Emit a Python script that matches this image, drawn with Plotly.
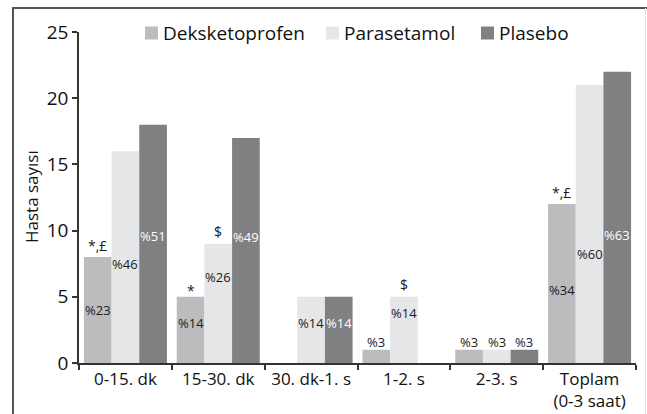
import plotly.graph_objects as go

categories = ["0-15. dk", "15-30. dk", "30. dk-1. s", "1-2. s", "2-3. s", "Toplam<br>(0-3 saat)"]
series_names = ["Deksketoprofen", "Parasetamol", "Plasebo"]
deks_values = [8, 5, 0, 1, 1, 12]
para_values = [16, 9, 5, 5, 1, 21]
plac_values = [18, 17, 5, 0, 1, 22]
series_values = [deks_values, para_values, plac_values]

deks_pct = ["%23", "%14", "", "%3", "%3", "%34"]
para_pct = ["%46", "%26", "%14", "%14", "%3", "%60"]
plac_pct = ["%51", "%49", "%14", "", "%3", "%63"]
pct_labels = [deks_pct, para_pct, plac_pct]
# heights (data units) where the percentage labels sit
deks_pct_y = [4.0, 3.0, 0, 1.6, 1.6, 5.5]
para_pct_y = [7.45, 6.5, 3.0, 3.8, 1.6, 8.2]
plac_pct_y = [9.6, 9.55, 3.0, 0, 1.6, 9.65]
pct_label_y = [deks_pct_y, para_pct_y, plac_pct_y]

deks_marks = ["*,£", "*", "", "", "", "*,£"]
para_marks = ["", "$", "", "$", "", ""]
plac_marks = ["", "", "", "", "", ""]
sig_marks = [deks_marks, para_marks, plac_marks]
deks_marks_y = [8.9, 5.5, 0, 0, 0, 12.9]
para_marks_y = [0, 9.95, 0, 5.9, 0, 0]
plac_marks_y = [0, 0, 0, 0, 0, 0]
sig_marks_y = [deks_marks_y, para_marks_y, plac_marks_y]

colors = ["#bcbcbe", "#e5e6e8", "#808083"]
inner_text_colors = ["#1a1a1a", "#1a1a1a", "#ffffff"]
FONT = "Open Sans"

fig = go.Figure()
for name, vals, col in zip(series_names, series_values, colors):
    fig.add_trace(go.Bar(x=categories, y=vals, name=name, marker=dict(color=col, line=dict(width=0)),
                         showlegend=False, hoverinfo="skip"))

BARGAP = 0.106
bar_w = (1 - BARGAP) / 3
annotations = []
for s in range(3):
    offset = (s - 1) * bar_w
    for i in range(len(categories)):
        lab = pct_labels[s][i]
        if lab:
            ly = pct_label_y[s][i]
            inside = ly < series_values[s][i]
            annotations.append(dict(x=i + offset, y=ly, xref="x", yref="y", text=lab, showarrow=False,
                                    xanchor="center", yanchor="middle",
                                    font=dict(family=FONT, size=13,
                                              color=inner_text_colors[s] if inside else "#1a1a1a")))
        mk = sig_marks[s][i]
        if mk:
            annotations.append(dict(x=i + offset, y=sig_marks_y[s][i], xref="x", yref="y", text=mk,
                                    showarrow=False, xanchor="center", yanchor="middle",
                                    font=dict(family=FONT, size=14, color="#1a1a1a")))

# manual legend
W, H, L, T = 647, 414, 79, 32
PW, PH = 557, 331
def px_x(p):
    return (p - L) / PW
def px_y(p):
    return (T + PH - p) / PH

legend_sq_left = [145, 326, 481]
shapes = []
for name, col, sx in zip(series_names, colors, legend_sq_left):
    shapes.append(dict(type="rect", xref="paper", yref="paper", x0=px_x(sx), x1=px_x(sx + 13),
                       y0=px_y(39.5), y1=px_y(26.5), fillcolor=col, line=dict(width=0)))
    annotations.append(dict(x=px_x(sx + 16), y=px_y(33), xref="paper", yref="paper", text=name,
                            showarrow=False, xanchor="left", yanchor="middle",
                            font=dict(family=FONT, size=19, color="#111111")))

# outer frame
shapes.append(dict(type="line", xref="paper", yref="paper", x0=px_x(13), x1=px_x(13), y0=px_y(8), y1=px_y(420),
                   line=dict(color="#555555", width=2)))
shapes.append(dict(type="line", xref="paper", yref="paper", x0=px_x(12), x1=px_x(650), y0=px_y(8), y1=px_y(8),
                   line=dict(color="#555555", width=2)))
shapes.append(dict(type="line", xref="paper", yref="paper", x0=px_x(645.5), x1=px_x(645.5), y0=px_y(8), y1=px_y(420),
                   line=dict(color="#e4e4e4", width=1)))

# y-axis title
annotations.append(dict(x=px_x(31), y=px_y(197), xref="paper", yref="paper", text="Hasta sayısı",
                        textangle=-90, showarrow=False, xanchor="center", yanchor="middle",
                        font=dict(family=FONT, size=17, color="#111111")))

fig.update_layout(
    width=W, height=H,
    margin=dict(l=L, r=W - L - PW, t=T, b=H - T - PH, pad=0, autoexpand=False),
    barmode="group", bargap=BARGAP, bargroupgap=0,
    plot_bgcolor="white", paper_bgcolor="white",
    font=dict(family=FONT, color="#111111"),
    showlegend=False,
    annotations=annotations, shapes=shapes,
    xaxis=dict(type="category", showline=True, linecolor="#333333", linewidth=1.5, showgrid=False,
               ticks="outside", tickson="boundaries", ticklen=5, tickcolor="#333333", tickwidth=1.5,
               tickfont=dict(family=FONT, size=17, color="#111111"), range=[-0.5, 5.5], fixedrange=True,
               automargin=False),
    yaxis=dict(range=[0, 25], tickvals=[0, 5, 10, 15, 20, 25], showline=True, linecolor="#333333", linewidth=1.5,
               showgrid=False, zeroline=False, ticks="outside", ticklen=5, tickcolor="#333333", tickwidth=1.5,
               tickfont=dict(family=FONT, size=19, color="#111111"), fixedrange=True, automargin=False),
)

fig.write_html("out.html", config={"displayModeBar": False},
               post_script="document.body.style.margin='0';document.body.style.overflow='hidden';")
